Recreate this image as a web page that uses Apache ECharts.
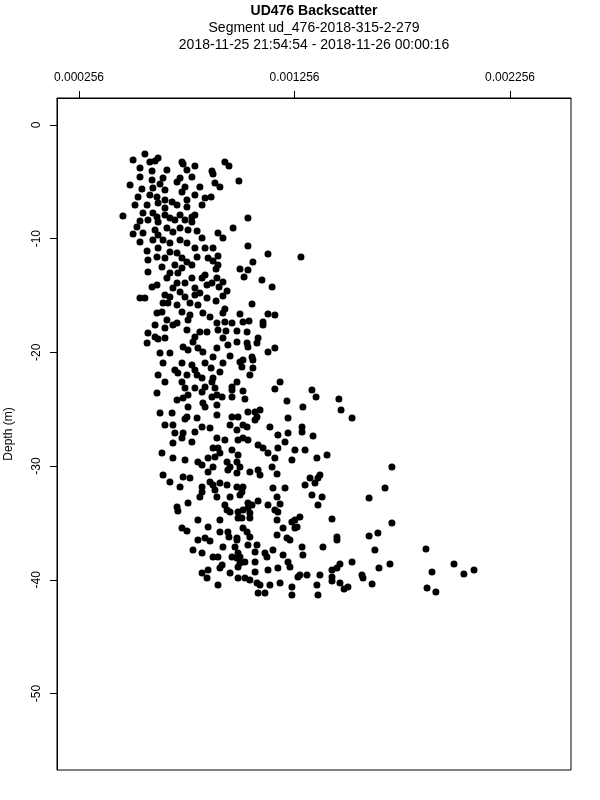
<!DOCTYPE html>
<html>
<head>
<meta charset="utf-8">
<script src="https://cdn.jsdelivr.net/npm/echarts@6/dist/echarts.min.js"></script>
<style>html,body{margin:0;padding:0;background:#fff}#c{width:600px;height:800px}</style>
</head>
<body>
<div id="c"></div>
<script>
const titleLines = ['UD476 Backscatter', 'Segment ud_476-2018-315-2-279', '2018-11-25 21:54:54 - 2018-11-26 00:00:16'];
const xTicks = [0.000256, 0.001256, 0.002256];
const yTicks = [0, -10, -20, -30, -40, -50];
const yName = 'Depth (m)';

// [backscatter, depth (m)]
const upperCore = [[0.000507,-3.08],[0.000562,-2.55],[0.000585,-3.25],[0.000623,-2.90],[0.000609,-3.17],[0.000734,-3.25],[0.000739,-3.43],[0.000794,-3.61],[0.000539,-3.78],[0.000595,-4.05],[0.000664,-3.96],[0.000757,-3.96],[0.000539,-4.57],[0.000646,-4.66],[0.000725,-4.66],[0.000780,-4.57],[0.000595,-4.84],[0.000493,-5.28],[0.000632,-5.19],[0.000711,-5.01],[0.000748,-5.45],[0.000817,-5.45],[0.000548,-5.63],[0.000599,-5.54],[0.000655,-5.72],[0.000734,-5.89],[0.000794,-6.16],[0.000530,-6.33],[0.000585,-6.16],[0.000618,-6.33],[0.000655,-6.60],[0.000688,-6.77],[0.000757,-6.60],[0.000841,-6.42],[0.000516,-7.04],[0.000572,-7.04],[0.000623,-6.86],[0.000655,-7.30],[0.000711,-7.04],[0.000757,-7.21],[0.000827,-7.04],[0.000460,-8.00],[0.000553,-7.74],[0.000599,-7.74],[0.000618,-8.09],[0.000655,-7.92],[0.000678,-8.18],[0.000725,-7.92],[0.000780,-8.09],[0.000794,-7.92],[0.000539,-8.44],[0.000576,-8.36],[0.000623,-8.53],[0.000701,-8.36],[0.000748,-8.36],[0.000780,-8.53]];
const upperRight = [[0.000933,-3.25],[0.000952,-3.61],[0.000873,-4.05],[0.000878,-4.31],[0.000887,-5.10],[0.000910,-5.45],[0.000998,-4.93],[0.000869,-6.33],[0.001040,-8.18],[0.000971,-9.06],[0.000901,-9.50],[0.000924,-9.94],[0.001040,-10.64],[0.000878,-10.82],[0.000901,-11.52],[0.001133,-11.35],[0.001286,-11.61],[0.000878,-11.96],[0.001063,-12.05],[0.000901,-12.31],[0.000892,-12.66],[0.001003,-12.66],[0.001040,-12.75],[0.001022,-13.37],[0.001105,-13.63],[0.000896,-13.46],[0.000873,-13.90],[0.000906,-14.25],[0.000924,-13.81],[0.001152,-14.25],[0.000943,-14.60],[0.000924,-15.04],[0.000892,-15.48],[0.001059,-15.74]];
const upperMid = [[0.000525,-8.97],[0.000553,-9.50],[0.000507,-9.59],[0.000609,-9.23],[0.000623,-9.67],[0.000664,-9.06],[0.000692,-9.41],[0.000725,-9.06],[0.000762,-9.23],[0.000804,-9.32],[0.000827,-9.94],[0.000539,-10.29],[0.000599,-10.11],[0.000646,-10.11],[0.000678,-10.38],[0.000725,-10.11],[0.000757,-10.38],[0.000623,-10.82],[0.000572,-11.08],[0.000678,-11.17],[0.000711,-11.26],[0.000794,-10.82],[0.000841,-10.82],[0.000618,-11.61],[0.000655,-11.70],[0.000576,-11.87],[0.000734,-11.70],[0.000757,-12.05],[0.000804,-11.61],[0.000855,-11.70],[0.000641,-12.49],[0.000701,-12.31],[0.000734,-12.58],[0.000780,-12.31],[0.000576,-12.93],[0.000678,-13.02],[0.000715,-13.02],[0.000841,-13.19],[0.000664,-13.46],[0.000780,-13.46],[0.000827,-13.46],[0.000711,-13.90],[0.000748,-13.90],[0.000595,-14.25],[0.000618,-14.07],[0.000692,-14.34],[0.000794,-14.34],[0.000850,-14.07],[0.000655,-14.95],[0.000678,-15.13],[0.000725,-14.69],[0.000748,-15.13],[0.000794,-14.95],[0.000817,-14.78],[0.000850,-15.22],[0.000539,-15.22],[0.000562,-15.22],[0.000646,-15.66],[0.000669,-15.66],[0.000771,-15.66]];
const midCore = [[0.000711,-15.83],[0.000808,-15.83],[0.000641,-16.45],[0.000618,-16.53],[0.000734,-16.45],[0.000771,-16.71],[0.000831,-16.53],[0.000864,-16.89],[0.000664,-17.15],[0.000711,-17.41],[0.000692,-17.59],[0.000609,-17.59],[0.000762,-17.15],[0.000655,-17.85],[0.000757,-18.03],[0.000817,-18.21],[0.000850,-18.21],[0.000576,-18.29],[0.000609,-18.65],[0.000623,-18.82],[0.000572,-19.17],[0.000655,-18.73],[0.000794,-18.65],[0.000785,-19.08],[0.000739,-19.52],[0.000762,-19.79],[0.000808,-19.61],[0.000831,-19.96],[0.000632,-20.05],[0.000678,-20.05],[0.000646,-20.93],[0.000734,-20.93],[0.000701,-21.55],[0.000715,-21.81],[0.000780,-21.11],[0.000794,-21.55],[0.000841,-20.93],[0.000623,-21.99],[0.000757,-21.99],[0.000804,-21.99],[0.000827,-22.25],[0.000655,-22.60],[0.000734,-22.60],[0.000748,-23.13],[0.000794,-23.13],[0.000841,-23.04],[0.000618,-23.57],[0.000762,-23.75],[0.000827,-23.48],[0.000711,-24.19],[0.000739,-24.01],[0.000762,-24.80],[0.000831,-24.45],[0.000841,-24.80],[0.000632,-25.33],[0.000688,-25.33],[0.000757,-25.68],[0.000804,-25.77]];
const midRight = [[0.000933,-16.18],[0.000924,-16.53],[0.001003,-16.62],[0.001133,-16.62],[0.001165,-16.71],[0.000896,-17.41],[0.000933,-17.33],[0.000966,-17.41],[0.001017,-17.33],[0.001045,-17.24],[0.001110,-17.33],[0.001110,-17.59],[0.000901,-18.03],[0.000938,-18.12],[0.000989,-18.12],[0.001036,-18.21],[0.000924,-18.73],[0.001087,-18.73],[0.000947,-19.35],[0.000989,-19.08],[0.001036,-19.17],[0.001040,-19.52],[0.001082,-19.17],[0.000896,-19.61],[0.001165,-19.61],[0.001133,-19.96],[0.000878,-20.40],[0.000957,-20.32],[0.001003,-20.84],[0.001017,-20.67],[0.001059,-20.40],[0.001063,-20.67],[0.000924,-20.93],[0.001012,-21.28],[0.001063,-21.37],[0.000869,-21.37],[0.000910,-21.72],[0.001049,-21.99],[0.000878,-22.25],[0.000873,-22.60],[0.000989,-22.60],[0.001189,-22.60],[0.000966,-23.04],[0.000966,-23.31],[0.000887,-23.13],[0.001017,-23.39],[0.001165,-23.22],[0.000896,-23.75],[0.000920,-23.92],[0.000873,-23.92],[0.000966,-23.92],[0.001026,-24.10],[0.001221,-24.27],[0.000896,-24.63],[0.001295,-24.80],[0.001040,-25.24],[0.001073,-25.24],[0.001096,-25.07],[0.001082,-25.68],[0.000896,-25.51],[0.000966,-25.68],[0.000994,-25.68],[0.001226,-25.77]];
const rightUpperTail = [[0.001337,-23.31],[0.001356,-23.92],[0.001462,-24.10],[0.001472,-25.07],[0.001523,-25.77]];
const lowerCore = [[0.000748,-25.86],[0.000827,-26.56],[0.000864,-26.65],[0.000655,-26.39],[0.000692,-26.39],[0.000701,-27.09],[0.000739,-27.09],[0.000734,-27.53],[0.000794,-27.00],[0.000957,-26.39],[0.000989,-26.83],[0.000692,-27.97],[0.000780,-27.88],[0.000896,-27.53],[0.000933,-27.70],[0.000994,-27.70],[0.000878,-28.41],[0.000901,-28.41],[0.000910,-28.85],[0.000966,-28.58],[0.000641,-28.85],[0.000692,-29.29],[0.000748,-29.46],[0.000808,-29.64],[0.000827,-29.90],[0.000855,-29.29],[0.000887,-29.20],[0.000943,-29.64],[0.000957,-30.08],[0.000989,-29.64],[0.000878,-30.08],[0.000947,-30.34],[0.000855,-30.52],[0.000646,-30.78],[0.000678,-31.40],[0.000739,-30.96],[0.000771,-31.05],[0.000864,-31.40],[0.000878,-31.66],[0.000910,-31.49],[0.000943,-31.66],[0.000725,-31.84],[0.000827,-31.84],[0.000989,-31.84],[0.000827,-32.28],[0.000817,-32.72],[0.000887,-32.10],[0.000896,-32.72],[0.000957,-32.72],[0.000762,-33.25],[0.000711,-33.60],[0.000933,-33.42]];
const lowerMid = [[0.001017,-26.39],[0.001036,-26.56],[0.001073,-25.95],[0.001142,-26.56],[0.001291,-26.56],[0.001291,-27.00],[0.001179,-27.26],[0.001226,-27.09],[0.001342,-27.35],[0.001017,-27.53],[0.001040,-27.70],[0.001087,-28.14],[0.001110,-28.41],[0.001133,-28.85],[0.001179,-28.41],[0.001212,-27.88],[0.001258,-28.58],[0.001305,-28.58],[0.001165,-29.29],[0.000994,-29.02],[0.001244,-29.46],[0.001360,-29.29],[0.001407,-29.02],[0.001003,-30.08],[0.001152,-30.08],[0.001049,-30.52],[0.001087,-30.34],[0.001096,-30.78],[0.001175,-30.69],[0.000989,-30.61],[0.001328,-31.05],[0.001374,-30.78],[0.001365,-31.05],[0.001351,-31.49],[0.001305,-31.66],[0.001017,-31.84],[0.001156,-31.93],[0.001212,-31.93],[0.001003,-32.54],[0.001012,-32.28],[0.001175,-32.72],[0.001337,-32.54],[0.001384,-32.72],[0.001040,-33.25],[0.001059,-33.42],[0.001087,-33.07],[0.001133,-33.42],[0.001189,-33.33],[0.001365,-33.42]];
const deepCore = [[0.000715,-33.95],[0.000808,-34.74],[0.000855,-35.36],[0.000910,-34.74],[0.000943,-33.86],[0.000957,-34.04],[0.000994,-34.56],[0.000734,-35.44],[0.000757,-35.71],[0.000808,-36.50],[0.000841,-36.32],[0.000864,-36.59],[0.000910,-35.80],[0.000947,-35.80],[0.000952,-36.24],[0.000989,-36.32],[0.000785,-37.38],[0.000827,-37.64],[0.000878,-37.99],[0.000901,-37.99],[0.000924,-37.11],[0.000980,-37.11],[0.000966,-37.99],[0.000989,-38.08],[0.000827,-39.40],[0.000850,-39.84],[0.000855,-39.14],[0.000910,-38.96],[0.000920,-38.70],[0.000957,-39.40],[0.000994,-39.84],[0.000901,-40.46]];
const deepMid = [[0.000994,-34.04],[0.001017,-33.86],[0.001040,-33.68],[0.001049,-34.12],[0.001165,-33.86],[0.001179,-34.04],[0.001012,-34.56],[0.001049,-34.56],[0.001175,-34.74],[0.001244,-34.92],[0.001258,-34.74],[0.001281,-34.48],[0.001017,-35.44],[0.001036,-35.80],[0.001203,-35.44],[0.001258,-35.44],[0.001268,-35.36],[0.000989,-36.50],[0.001049,-36.24],[0.001175,-36.06],[0.001221,-36.32],[0.001235,-36.50],[0.001040,-36.94],[0.001082,-36.94],[0.001291,-37.11],[0.001388,-37.11],[0.001156,-37.38],[0.000994,-37.64],[0.001003,-37.99],[0.001073,-37.55],[0.001119,-37.64],[0.001128,-37.99],[0.001203,-37.82],[0.001295,-37.82],[0.001003,-38.52],[0.001026,-38.43],[0.001073,-38.43],[0.001226,-38.43],[0.001235,-38.87],[0.001179,-38.96],[0.001133,-39.14],[0.000994,-38.87],[0.001073,-39.31],[0.001281,-39.58],[0.001314,-39.58],[0.001272,-39.75],[0.001374,-39.58],[0.001430,-39.14],[0.001026,-39.84],[0.001049,-40.02],[0.001082,-40.28],[0.001096,-40.46],[0.001142,-40.46],[0.001189,-40.28],[0.001244,-40.63],[0.001360,-40.46],[0.001087,-41.16],[0.001119,-41.16],[0.001244,-41.34],[0.001365,-41.34]];
const deepTail = [[0.001708,-30.08],[0.001676,-31.93],[0.001602,-32.80],[0.001430,-34.65],[0.001708,-35.00],[0.001453,-36.24],[0.001453,-36.50],[0.001602,-36.15],[0.001643,-35.88],[0.001629,-37.38],[0.001866,-37.29],[0.001523,-38.43],[0.001453,-38.96],[0.001467,-38.61],[0.001699,-38.61],[0.001648,-38.96],[0.001894,-39.31],[0.001996,-38.61],[0.002089,-39.14],[0.002042,-39.49],[0.001430,-39.75],[0.001430,-40.11],[0.001569,-39.58],[0.001574,-39.84],[0.001467,-40.28],[0.001486,-40.81],[0.001504,-40.63],[0.001616,-40.37],[0.001871,-40.72],[0.001912,-41.07]];

const allPoints = [].concat(upperCore, upperRight, upperMid, midCore, midRight, rightUpperTail, lowerCore, lowerMid, deepCore, deepMid, deepTail);

const FONT = 'Liberation Sans, Arial, sans-serif';
const chart = echarts.init(document.getElementById('c'), null, {renderer: 'canvas'});
chart.setOption({
  animation: false,
  backgroundColor: '#ffffff',
  graphic: [
    {type: 'text', x: 314, y: 11, style: {text: titleLines[0], font: 'bold 14px ' + FONT, fill: '#000', textAlign: 'center', textVerticalAlign: 'middle'}},
    {type: 'text', x: 314, y: 28, style: {text: titleLines[1], font: '14px ' + FONT, fill: '#000', textAlign: 'center', textVerticalAlign: 'middle'}},
    {type: 'text', x: 314, y: 45, style: {text: titleLines[2], font: '14px ' + FONT, fill: '#000', textAlign: 'center', textVerticalAlign: 'middle'}}
  ],
  grid: {left: 57, right: 29, top: 98, bottom: 30, outerBoundsMode: 'none', containLabel: false, show: true, borderColor: '#000', borderWidth: 1, backgroundColor: 'transparent'},
  xAxis: {
    type: 'value', position: 'top', min: 0.000154, max: 0.002539,
    axisLine: {show: true, onZero: false, lineStyle: {color: '#000'}},
    splitLine: {show: false},
    axisTick: {show: true, inside: false, length: 7, lineStyle: {color: '#000'}, customValues: xTicks},
    axisLabel: {show: true, margin: 14, color: '#000', fontSize: 12, fontFamily: FONT, customValues: xTicks, formatter: v => v.toFixed(6)}
  },
  yAxis: {
    type: 'value', position: 'left', min: -56.73, max: 2.37,
    name: yName, nameLocation: 'middle', nameRotate: 90, nameGap: 42,
    nameTextStyle: {color: '#000', fontSize: 12, fontFamily: FONT},
    axisLine: {show: true, onZero: false, lineStyle: {color: '#000'}},
    splitLine: {show: false},
    axisTick: {show: true, inside: false, length: 7, lineStyle: {color: '#000'}, customValues: yTicks},
    axisLabel: {show: true, rotate: 90, margin: 14, color: '#000', fontSize: 12, fontFamily: FONT, customValues: yTicks, formatter: v => String(v)}
  },
  series: [{
    type: 'scatter',
    data: allPoints,
    symbol: 'circle',
    symbolSize: 7,
    itemStyle: {color: '#000', opacity: 1},
    silent: true
  }]
});
</script>
</body>
</html>
